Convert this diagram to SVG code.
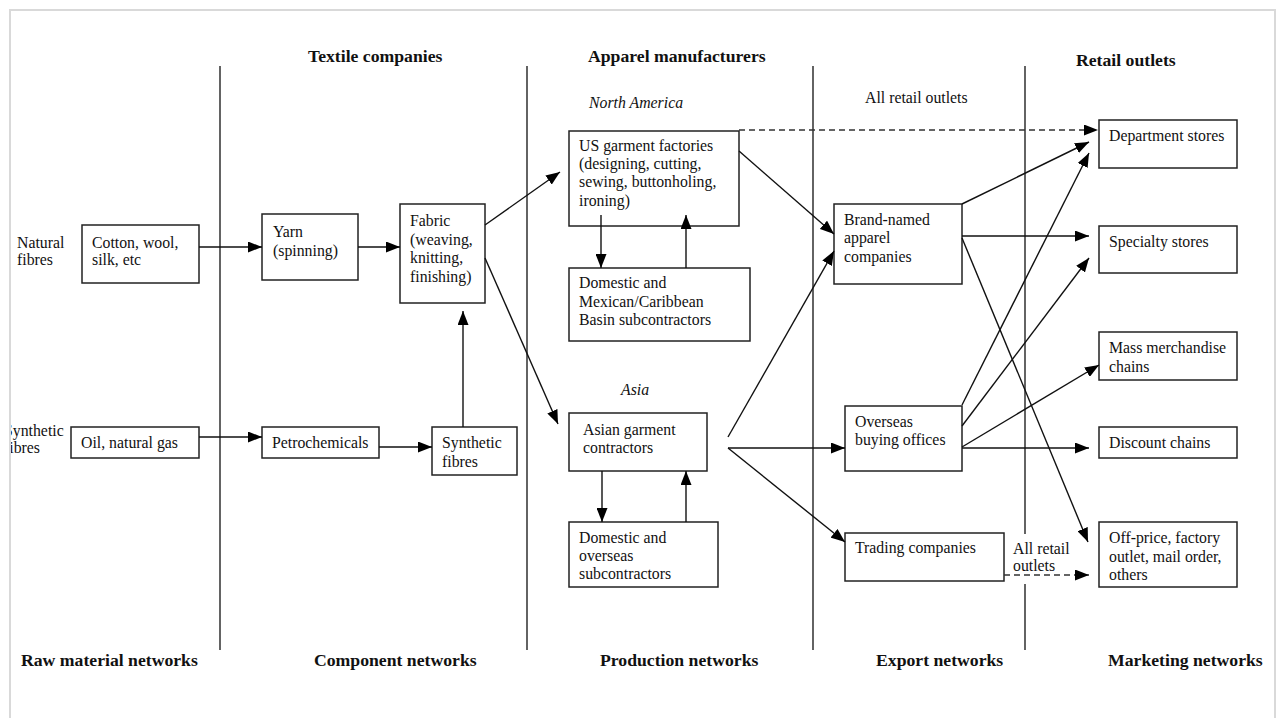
<svg xmlns="http://www.w3.org/2000/svg" width="1277" height="718" viewBox="0 0 1277 718">
  <style>
    text { font-family: "Liberation Serif", "Times New Roman", serif; fill: #111; font-size: 15.8px; }
    .hd { font-weight: bold; font-size: 17.7px; }
    .it { font-style: italic; }
    .box { fill: #fff; stroke: #222; stroke-width: 1.5; }
    .ln { fill: none; stroke: #111; stroke-width: 1.4; }
    .dash { fill: none; stroke: #333; stroke-width: 1.4; stroke-dasharray: 6 4; }
    .div { stroke: #222; stroke-width: 1.4; }
  </style>
  <defs>
    <marker id="arr" markerUnits="userSpaceOnUse" markerWidth="14" markerHeight="11" refX="14" refY="5.5" orient="auto">
      <path d="M0,0 L14,5.5 L0,11 z" fill="#000"/>
    </marker>
  </defs>

  <rect width="1277" height="718" fill="#fff"/>

  <!-- column dividers -->
  <g id="dividers">
    <line class="div" x1="220" y1="66" x2="220" y2="650"/>
    <line class="div" x1="527" y1="66" x2="527" y2="650"/>
    <line class="div" x1="813" y1="66" x2="813" y2="650"/>
    <line class="div" x1="1025" y1="66" x2="1025" y2="650"/>
  </g>

  <!-- column headings -->
  <g id="headings">
    <text class="hd" x="308" y="62">Textile companies</text>
    <text class="hd" x="588" y="62">Apparel manufacturers</text>
    <text class="hd" x="1076" y="66">Retail outlets</text>
    <text class="it" x="589" y="108">North America</text>
    <text class="it" x="621" y="395">Asia</text>
    <text x="865" y="103">All retail outlets</text>
    <text class="hd" x="21" y="666">Raw material networks</text>
    <text class="hd" x="314" y="666">Component networks</text>
    <text class="hd" x="600" y="666">Production networks</text>
    <text class="hd" x="876" y="666">Export networks</text>
    <text class="hd" x="1108" y="666">Marketing networks</text>
  </g>

  <!-- side labels -->
  <g id="side-labels">
    <text x="17" y="248">Natural</text>
    <text x="17" y="265">fibres</text>
    <text x="4" y="436">Synthetic</text>
    <text x="4" y="453">fibres</text>
  </g>

  <!-- nodes -->
  <g id="cotton">
    <rect class="box" x="82" y="225" width="117" height="58"/>
    <text x="92" y="248">Cotton, wool,</text>
    <text x="92" y="265">silk, etc</text>
  </g>
  <g id="oil">
    <rect class="box" x="71" y="427" width="128" height="31"/>
    <text x="81" y="448">Oil, natural gas</text>
  </g>
  <g id="yarn">
    <rect class="box" x="262" y="214" width="96" height="66"/>
    <text x="273" y="237">Yarn</text>
    <text x="273" y="256">(spinning)</text>
  </g>
  <g id="fabric">
    <rect class="box" x="400" y="204" width="85" height="99"/>
    <text x="410" y="226">Fabric</text>
    <text x="410" y="245">(weaving,</text>
    <text x="410" y="263">knitting,</text>
    <text x="410" y="282">finishing)</text>
  </g>
  <g id="petrochemicals">
    <rect class="box" x="262" y="427" width="117" height="31"/>
    <text x="272" y="448">Petrochemicals</text>
  </g>
  <g id="synthetic-fibres">
    <rect class="box" x="432" y="427" width="85" height="48"/>
    <text x="442" y="448">Synthetic</text>
    <text x="442" y="467">fibres</text>
  </g>
  <g id="us-factories">
    <rect class="box" x="569" y="131" width="170" height="95"/>
    <text x="579" y="151">US garment factories</text>
    <text x="579" y="169">(designing, cutting,</text>
    <text x="579" y="187">sewing, buttonholing,</text>
    <text x="579" y="206">ironing)</text>
  </g>
  <g id="na-subcontractors">
    <rect class="box" x="569" y="268" width="181" height="73"/>
    <text x="579" y="288">Domestic and</text>
    <text x="579" y="307">Mexican/Caribbean</text>
    <text x="579" y="325">Basin subcontractors</text>
  </g>
  <g id="asian-contractors">
    <rect class="box" x="569" y="413" width="138" height="58"/>
    <text x="583" y="435">Asian garment</text>
    <text x="583" y="453">contractors</text>
  </g>
  <g id="asia-subcontractors">
    <rect class="box" x="569" y="522" width="149" height="65"/>
    <text x="579" y="543">Domestic and</text>
    <text x="579" y="561">overseas</text>
    <text x="579" y="579">subcontractors</text>
  </g>
  <g id="brand-named">
    <rect class="box" x="834" y="204" width="128" height="80"/>
    <text x="844" y="225">Brand-named</text>
    <text x="844" y="243">apparel</text>
    <text x="844" y="262">companies</text>
  </g>
  <g id="buying-offices">
    <rect class="box" x="845" y="406" width="117" height="65"/>
    <text x="855" y="427">Overseas</text>
    <text x="855" y="445">buying offices</text>
  </g>
  <g id="trading">
    <rect class="box" x="845" y="533" width="159" height="48"/>
    <text x="855" y="553">Trading companies</text>
  </g>
  <g id="department">
    <rect class="box" x="1099" y="120" width="138" height="48"/>
    <text x="1109" y="141">Department stores</text>
  </g>
  <g id="specialty">
    <rect class="box" x="1099" y="226" width="138" height="47"/>
    <text x="1109" y="247">Specialty stores</text>
  </g>
  <g id="mass-merchandise">
    <rect class="box" x="1099" y="332" width="138" height="48"/>
    <text x="1109" y="353">Mass merchandise</text>
    <text x="1109" y="372">chains</text>
  </g>
  <g id="discount">
    <rect class="box" x="1099" y="427" width="138" height="31"/>
    <text x="1109" y="448">Discount chains</text>
  </g>
  <g id="off-price">
    <rect class="box" x="1099" y="522" width="138" height="65"/>
    <text x="1109" y="543">Off-price, factory</text>
    <text x="1109" y="562">outlet, mail order,</text>
    <text x="1109" y="580">others</text>
  </g>

  <!-- connectors -->
  <g id="connectors">
    <line class="ln" x1="199" y1="247" x2="262" y2="247" marker-end="url(#arr)"/>
    <line class="ln" x1="199" y1="437" x2="262" y2="437" marker-end="url(#arr)"/>
    <line class="ln" x1="358" y1="247" x2="400" y2="247" marker-end="url(#arr)"/>
    <line class="ln" x1="379" y1="447" x2="432" y2="447" marker-end="url(#arr)"/>
    <line class="ln" x1="463" y1="427" x2="463" y2="311" marker-end="url(#arr)"/>
    <line class="ln" x1="485" y1="225" x2="560" y2="172" marker-end="url(#arr)"/>
    <line class="ln" x1="485" y1="258" x2="558" y2="424" marker-end="url(#arr)"/>
    <line class="ln" x1="601" y1="215" x2="601" y2="268" marker-end="url(#arr)"/>
    <line class="ln" x1="686" y1="268" x2="686" y2="215" marker-end="url(#arr)"/>
    <line class="ln" x1="602" y1="471" x2="602" y2="522" marker-end="url(#arr)"/>
    <line class="ln" x1="686" y1="522" x2="686" y2="471" marker-end="url(#arr)"/>
    <line class="ln" x1="739" y1="151" x2="834" y2="234" marker-end="url(#arr)"/>
    <line class="dash" x1="739" y1="130" x2="1098" y2="130" marker-end="url(#arr)"/>
    <line class="ln" x1="728" y1="437" x2="834" y2="251" marker-end="url(#arr)"/>
    <line class="ln" x1="728" y1="448" x2="845" y2="448" marker-end="url(#arr)"/>
    <line class="ln" x1="728" y1="448" x2="845" y2="542" marker-end="url(#arr)"/>
    <line class="ln" x1="962" y1="204" x2="1089" y2="142" marker-end="url(#arr)"/>
    <line class="ln" x1="962" y1="236" x2="1089" y2="236" marker-end="url(#arr)"/>
    <line class="ln" x1="962" y1="238" x2="1088" y2="542" marker-end="url(#arr)"/>
    <line class="ln" x1="962" y1="405" x2="1089" y2="153" marker-end="url(#arr)"/>
    <line class="ln" x1="962" y1="426" x2="1089" y2="258" marker-end="url(#arr)"/>
    <line class="ln" x1="962" y1="447" x2="1099" y2="365" marker-end="url(#arr)"/>
    <line class="ln" x1="962" y1="448" x2="1089" y2="448" marker-end="url(#arr)"/>
    <rect x="1007" y="534" width="66" height="50" fill="#fff"/>
    <line class="dash" x1="1004" y1="575" x2="1089" y2="575" marker-end="url(#arr)"/>
    <text x="1013" y="554">All retail</text>
    <text x="1013" y="571">outlets</text>
  </g>

  <!-- page frame -->
  <g id="frame">
    <rect x="0" y="0" width="10" height="718" fill="#fff"/>
    <path d="M10,718 V10 H1275 V718" fill="none" stroke="#d9d9d9" stroke-width="2"/>
  </g>
</svg>
